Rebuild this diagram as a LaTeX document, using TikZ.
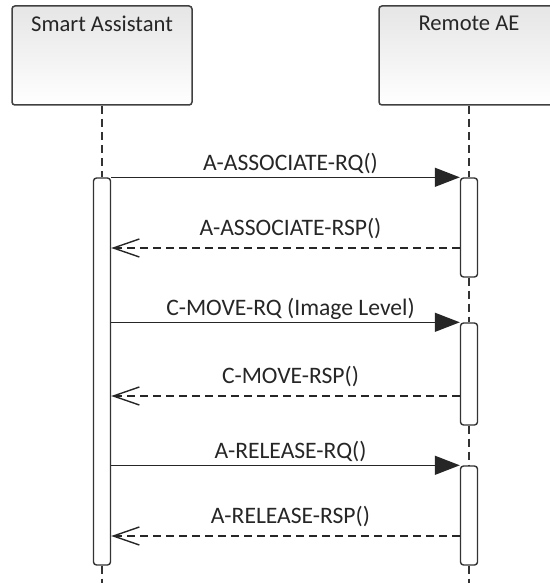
\documentclass[tikz,border=0pt]{standalone}
\usepackage{fontspec}
\setmainfont{Carlito}
\usetikzlibrary{arrows.meta,positioning}
\tikzset{
  every node/.style={
    font=\fontsize{11.3}{13}\selectfont,
    text=black!85
  },
  actor/.style={
    shape=rectangle,
    rounded corners=1.5pt,
    minimum width=90pt,
    minimum height=49.5pt,
    draw=black!75,
    line width=0.75pt,
    top color=black!10,
    bottom color=white
  },
  activation/.style={
    shape=rectangle,
    rounded corners=1.5pt,
    minimum width=8.5pt,
    inner sep=0pt,
    draw=black!80,
    line width=0.7pt,
    fill=white
  },
  lifeline/.style={
    draw=black!80,
    line width=0.7pt,
    dash pattern=on 4pt off 2.5pt
  },
  call/.style={
    draw=black!85,
    line width=0.7pt,
    -{Triangle[length=12.5pt,width=9.5pt]}
  },
  reply/.style={
    draw=black!85,
    line width=0.7pt,
    dash pattern=on 4pt off 2.5pt,
    -{Straight Barb[length=13pt,width=9pt,line width=0.7pt]}
  },
  call label/.style={
    midway,
    anchor=base,
    yshift=3.5pt,
    xshift=2.5pt,
    font=\fontsize{11.8}{13}\selectfont
  },
  reply label/.style={
    midway,
    anchor=base,
    yshift=6.5pt,
    xshift=2.5pt,
    font=\fontsize{11.8}{13}\selectfont
  }
}

\begin{document}
\begin{tikzpicture}[x=0.5pt,y=-0.5pt]
\useasboundingbox (0,0) rectangle (550,583);
\clip (0,0) rectangle (550,583);

\node [actor, label={[anchor=north,yshift=-2pt]north:Smart Assistant}] (sa) at (102,55.5) {};
\node [actor, label={[anchor=north,yshift=-2pt]north:Remote AE}] (ae) at (469,55.5) {};

\node [activation, minimum height=193.5pt] (sabar) at (102,371.5) {};
\node [activation, minimum height=49.5pt] (aebar1) at (469,227.5) {};
\node [activation, minimum height=51pt] (aebar2) at (469,374) {};
\node [activation, minimum height=49.5pt] (aebar3) at (469,515.5) {};

\coordinate (saend) at (102,583);
\coordinate (aeend) at (469,583);
\coordinate (rsp1) at (0,248);
\coordinate (rsp2) at (0,396);
\coordinate (rsp3) at (0,536);

\draw [lifeline] (sa.south) -- (sabar.north);
\draw [lifeline] (sabar.south) -- (saend);
\draw [lifeline] (ae.south) -- (aebar1.north);
\draw [lifeline] (aebar1.south) -- (aebar2.north);
\draw [lifeline] (aebar2.south) -- (aebar3.north);
\draw [lifeline] (aebar3.south) -- (aeend);

\draw [call] (sabar.east |- aebar1.north) -- node [call label] {A-ASSOCIATE-RQ()} (aebar1.north west);
\draw [reply] (aebar1.west |- rsp1) -- node [reply label] {A-ASSOCIATE-RSP()} (sabar.east |- rsp1);
\draw [call] (sabar.east |- aebar2.north) -- node [call label] {C-MOVE-RQ (Image Level)} (aebar2.north west);
\draw [reply] (aebar2.west |- rsp2) -- node [reply label] {C-MOVE-RSP()} (sabar.east |- rsp2);
\draw [call] (sabar.east |- aebar3.north) -- node [call label] {A-RELEASE-RQ()} (aebar3.north west);
\draw [reply] (aebar3.west |- rsp3) -- node [reply label] {A-RELEASE-RSP()} (sabar.east |- rsp3);

\end{tikzpicture}
\end{document}
